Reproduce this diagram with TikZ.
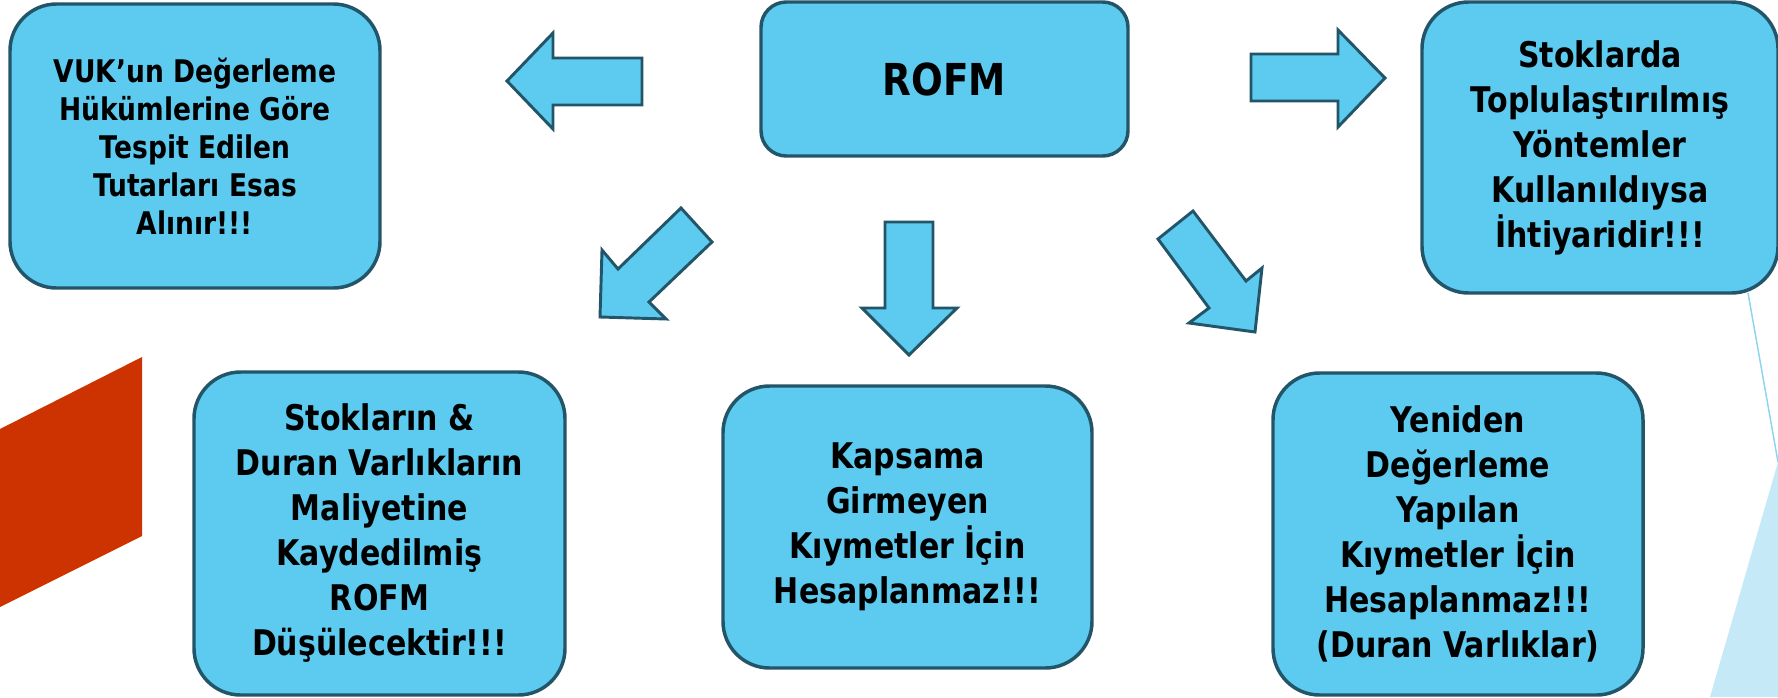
\documentclass[tikz,border=0pt]{standalone}
\usepackage{fontspec}
\usepackage{tikz}
\usepackage{xcolor}
\usetikzlibrary{arrows.meta, positioning}
\newfontfamily\boxfont{DejaVu Sans}[FakeStretch=0.85]

\definecolor{boxfill}{RGB}{93,202,239}
\definecolor{boxline}{RGB}{35,85,105}
\definecolor{slidered}{RGB}{204,51,0}
\definecolor{slidepale}{RGB}{197,233,247}
\definecolor{slideline}{RGB}{140,212,240}

\tikzset{
  infobox/.style={draw=boxline, fill=boxfill, line width=2.6pt, rounded corners=35pt,
    align=center, inner sep=0pt, text=black,
    font=\boxfont\bfseries\fontsize{26.5}{33.75}\selectfont},
  blockarrow/.style={draw=boxline, fill=boxfill, line width=2.2pt, line join=miter}
}

\begin{document}
\begin{tikzpicture}[x=0.75pt,y=0.75pt,yscale=-1,xscale=1]
\useasboundingbox (0,0) rectangle (1778,697);

%Shape: Parallelogram (slide accent)
\fill [slidered] (0,429) -- (142,357) -- (142,536) -- (0,607) -- cycle ;
%Shape: Triangle (slide accent)
\fill [slidepale] (1710,697) -- (1778,462) -- (1778,697) -- cycle ;
%Straight Lines
\draw [slideline, line width=1.1pt] (1748,293) -- (1778,462) ;

%Shape: Rounded Rect
\node [infobox, minimum width=277.5pt, minimum height=213pt,
  font=\boxfont\bfseries\fontsize{23.4}{28.5}\selectfont] (vuk) at (195,146)
  {VUK’un Değerleme\\Hükümlerine Göre\\Tespit Edilen\\Tutarları Esas\\Alınır!!!};
%Shape: Rounded Rect
\node [infobox, minimum width=275.25pt, minimum height=115.5pt, rounded corners=19pt,
  font=\boxfont\bfseries\fontsize{33}{38}\selectfont] (rofm) at (944.5,79) {ROFM};
%Shape: Rounded Rect
\node [infobox, minimum width=267pt, minimum height=218.25pt] (toplu) at (1600,147.5)
  {Stoklarda\\Toplulaştırılmış\\Yöntemler\\Kullanıldıysa\\İhtiyaridir!!!};
%Shape: Rounded Rect
\node [infobox, minimum width=278.25pt, minimum height=242.25pt] (stok) at (379.5,533.5)
  {Stokların \&\\Duran Varlıkların\\Maliyetine\\Kaydedilmiş\\ROFM\\Düşülecektir!!!};
%Shape: Rounded Rect
\node [infobox, minimum width=276.75pt, minimum height=211.5pt] (kapsam) at (907.5,527)
  {Kapsama\\Girmeyen\\Kıymetler İçin\\Hesaplanmaz!!!};
%Shape: Rounded Rect
\node [infobox, minimum width=277.5pt, minimum height=241.5pt] (yeniden) at (1458,534)
  {Yeniden\\Değerleme\\Yapılan\\Kıymetler İçin\\Hesaplanmaz!!!\\(Duran Varlıklar)};

%Shape: Left Arrow
\draw [blockarrow] (507,81) -- (553,33) -- (553,58) -- (642,58) -- (642,105) -- (553,105) -- (553,129) -- cycle ;
%Shape: Right Arrow
\draw [blockarrow] (1251,54) -- (1338,54) -- (1338,30) -- (1385,78) -- (1338,127) -- (1338,101) -- (1251,101) -- cycle ;
%Shape: Down Arrow
\draw [blockarrow] (885,222) -- (933,222) -- (933,308) -- (957,308) -- (909,355) -- (862,308) -- (885,308) -- cycle ;
%Shape: Down Left Arrow
\draw [blockarrow] (681,208) -- (712,242) -- (649,302) -- (666,319) -- (600,317) -- (602,250) -- (618,269) -- cycle ;
%Shape: Down Right Arrow
\draw [blockarrow] (1193,211) -- (1158,239) -- (1209,308) -- (1189,323) -- (1255,332) -- (1262,268) -- (1246,281) -- cycle ;

\end{tikzpicture}
\end{document}
